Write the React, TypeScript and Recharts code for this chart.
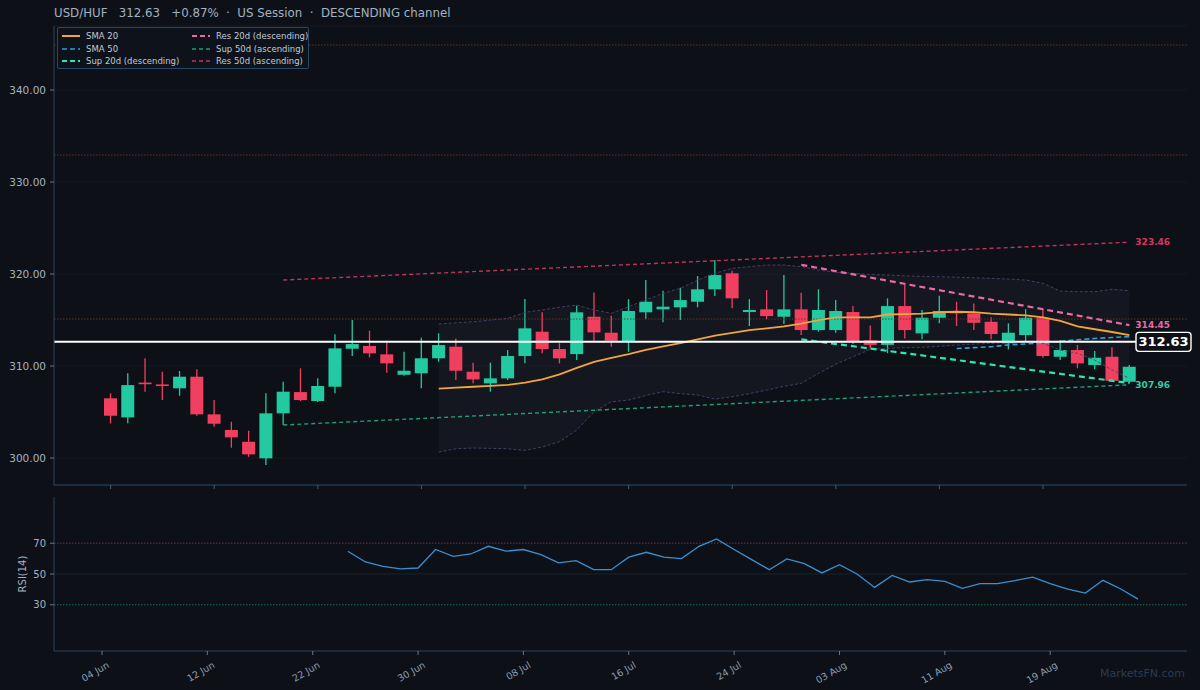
import React from 'react';
import { ComposedChart, Bar, Line, Area, XAxis, YAxis, CartesianGrid, ReferenceLine } from 'recharts';

// daily candles
const opens = [
  306.49, 304.42, 308.2, 308.0, 307.58, 308.84, 304.75, 303.05, 301.77, 299.97,
  304.86, 307.17, 306.2, 307.75, 311.88, 312.18, 311.27, 309.05, 309.21, 310.84,
  312.1, 309.38, 308.12, 308.66, 311.09, 313.73, 311.85, 311.3, 315.36, 313.62,
  312.64, 315.84, 316.16, 316.38, 316.99, 318.34, 320.08, 315.87, 316.16, 315.36,
  316.16, 313.91, 313.91, 315.87, 312.8, 312.3, 316.52, 313.55, 315.25, 315.98,
  315.73, 314.81, 312.47, 313.37, 315.25, 311.01, 311.74, 310.11, 311.01, 308.29,
];
const highs = [
  307.03, 309.21, 310.84, 309.38, 309.46, 309.64, 306.3, 303.95, 302.97, 307.03,
  308.29, 309.75, 308.66, 313.45, 315.0, 313.84, 312.53, 311.55, 313.08, 313.55,
  313.0, 310.36, 310.36, 311.74, 317.28, 315.84, 312.47, 316.55, 317.99, 315.47,
  317.28, 319.35, 318.18, 318.51, 319.78, 321.52, 320.36, 317.28, 318.26, 319.89,
  317.97, 318.34, 317.17, 316.52, 314.4, 317.36, 318.8, 316.09, 317.64, 316.99,
  316.81, 315.29, 314.64, 316.19, 316.27, 312.83, 312.28, 311.63, 312.03, 310.11,
];
const lows = [
  303.77, 303.77, 307.21, 306.3, 306.77, 304.6, 303.4, 301.12, 300.14, 299.24,
  303.6, 306.2, 306.1, 307.03, 311.09, 310.94, 309.27, 308.95, 307.58, 310.47,
  308.48, 308.12, 307.21, 308.48, 310.29, 311.38, 310.29, 310.65, 312.64, 312.1,
  311.55, 315.08, 314.75, 315.0, 316.38, 317.61, 316.27, 314.35, 315.08, 314.57,
  313.37, 313.73, 313.62, 312.4, 311.92, 311.4, 313.0, 312.9, 314.64, 314.35,
  313.91, 312.9, 311.81, 312.64, 310.9, 310.65, 309.75, 309.64, 308.29, 308.12,
];
const closes = [
  304.6, 307.93, 308.1, 307.9, 308.84, 304.75, 303.73, 302.25, 300.4, 304.86,
  307.21, 306.3, 307.83, 311.92, 312.39, 311.38, 310.29, 309.49, 310.84, 312.28,
  309.49, 308.55, 308.66, 311.09, 314.1, 311.85, 310.84, 315.84, 313.66, 312.75,
  315.98, 316.99, 316.45, 317.17, 318.34, 319.89, 317.36, 316.09, 315.43, 316.16,
  313.91, 316.09, 315.98, 312.64, 312.3, 316.52, 313.91, 315.25, 315.98, 315.73,
  314.7, 313.48, 313.62, 315.25, 311.09, 311.74, 310.29, 310.9, 308.4, 309.92,
];

// overlays (first index each series starts at)
const SMA20_FROM = 19;
const sma20 = [
  307.55, 307.65, 307.75, 307.85, 307.95, 308.2, 308.55, 309.1, 309.8, 310.45,
  310.9, 311.3, 311.75, 312.15, 312.5, 312.9, 313.3, 313.6, 313.9, 314.1,
  314.3, 314.6, 315.0, 315.3, 315.3, 315.3, 315.6, 315.65, 315.7, 315.85,
  315.9, 315.85, 315.7, 315.6, 315.5, 315.3, 314.9, 314.3, 314.0, 313.7, 313.35,
];
const SMA50_FROM = 49;
const sma50 = [311.9, 312.0, 312.1, 312.3, 312.4, 312.5, 312.7, 312.85, 313.0, 313.1, 313.2];

const BB_FROM = 19;
const bbUpper = [
  314.57, 314.7, 314.81, 315.0, 315.18, 315.84, 316.09, 316.4, 316.63, 316.09,
  315.73, 316.45, 317.2, 317.9, 318.45, 319.35, 320.08, 320.62, 320.8, 320.98,
  320.98, 320.8, 320.43, 320.2, 320.08, 319.95, 319.89, 319.8, 319.75, 319.71,
  319.65, 319.6, 319.53, 319.45, 319.35, 318.99, 318.15, 318.08, 318.08, 318.34, 318.18,
];
const bbLower = [
  300.65, 301.01, 301.09, 301.05, 301.01, 300.83, 301.2, 301.77, 303.05, 305.03,
  306.12, 306.3, 306.8, 307.21, 307.0, 306.85, 306.41, 306.67, 307.0, 307.39,
  307.8, 308.12, 309.21, 310.2, 311.01, 311.81, 311.92, 312.0, 312.03, 312.15,
  312.28, 312.38, 312.47, 312.55, 312.64, 312.47, 311.74, 311.38, 310.65, 309.57, 308.66,
];

// trend lines: [fromIndex, toIndex], [startValue, endValue]
const res50Idx = [10, 59];
const res50Val = [319.35, 323.46];
const sup50Idx = [10, 59];
const sup50Val = [303.59, 307.96];
const res20Idx = [40, 59];
const res20Val = [321.0, 314.45];
const sup20Idx = [40, 59];
const sup20Val = [312.9, 308.15];

const levels = [344.89, 332.94, 315.11];
const lastPrice = 312.63;

const RSI_FROM = 14;
const rsi = [
  64.8, 57.8, 55.0, 53.3, 53.9, 65.9, 61.5, 63.0, 68.0, 64.8,
  65.9, 62.6, 57.2, 58.7, 52.8, 52.8, 60.9, 64.1, 60.9, 60.0,
  68.0, 72.8, 65.9, 59.3, 52.8, 59.8, 56.7, 50.7, 56.1, 50.0,
  41.3, 49.1, 44.8, 46.3, 45.2, 40.7, 43.7, 43.7, 45.7, 48.0,
  43.7, 40.2, 37.6, 45.9, 40.4, 33.7,
];

const tickLabels = ['04 Jun', '12 Jun', '22 Jun', '30 Jun', '08 Jul', '16 Jul', '24 Jul', '03 Aug', '11 Aug', '19 Aug'];
const TICK_EVERY = 6;

const BG = '#0d1117';
const BORDER = '#2a4663';
const TXT = '#a3b1c2';
const UP = '#22c9a1';
const DOWN = '#f03f5f';
const C_SMA20 = '#f2a53a';
const C_SMA50 = '#2b9fe0';
const C_SUP20 = '#2ee3b4';
const C_RES20 = '#ea6aa3';
const C_SUP50 = '#1f9e72';
const C_RES50 = '#c2335a';
const FONT = '"DejaVu Sans", sans-serif';
const LAST = opens.length - 1;

const from = (arr: number[], start: number, i: number) =>
  i >= start && i - start < arr.length ? arr[i - start] : null;
const ends = (idx: number[], val: number[], i: number) =>
  i === idx[0] ? val[0] : i === idx[1] ? val[1] : null;

const data = opens.map((o, i) => ({
  i,
  o,
  h: highs[i],
  l: lows[i],
  c: closes[i],
  sma20: from(sma20, SMA20_FROM, i),
  sma50: from(sma50, SMA50_FROM, i),
  bbU: from(bbUpper, BB_FROM, i),
  bbL: from(bbLower, BB_FROM, i),
  res50: ends(res50Idx, res50Val, i),
  sup50: ends(sup50Idx, sup50Val, i),
  res20: ends(res20Idx, res20Val, i),
  sup20: ends(sup20Idx, sup20Val, i),
  rsi: from(rsi, RSI_FROM, i),
}));

const Candle = (props: any) => {
  const { x, y, width, height, payload } = props;
  if (x == null || y == null) return <g />;
  const { o, h, l, c } = payload;
  const top = height < 0 ? y + height : y;
  const hh = Math.abs(height);
  const ppu = hh / (h - l || 1);
  const yOf = (v: number) => top + (h - v) * ppu;
  const color = c >= o ? UP : DOWN;
  const cx = x + width / 2;
  const bTop = yOf(Math.max(o, c));
  const bBot = yOf(Math.min(o, c));
  return (
    <g>
      <line x1={cx} x2={cx} y1={top} y2={top + hh} stroke={color} strokeWidth={1.3} />
      <rect x={x} y={bTop} width={width} height={Math.max(bBot - bTop, 1.6)} fill={color} />
    </g>
  );
};

const endLabel = (color: string) => (p: any) => {
  if (p.index !== LAST || p.value == null) return <g />;
  return (
    <text x={p.x + 6} y={p.y} dy={3} fill={color} fontSize={9} fontWeight="bold" fontFamily={FONT}>
      {Number(p.value).toFixed(2)}
    </text>
  );
};

const PriceTag = (p: any) => {
  const vb = p.viewBox || {};
  const x = vb.x + vb.width - 51;
  const y = vb.y;
  return (
    <g>
      <rect x={x} y={y - 9.5} width={55} height={19} rx={3} fill={BG} stroke="#ffffff" strokeWidth={1.4} />
      <text x={x + 27.5} y={y} dy={4.5} textAnchor="middle" fill="#ffffff" fontSize={13} fontWeight="bold" fontFamily={FONT}>
        {lastPrice.toFixed(2)}
      </text>
    </g>
  );
};

const DateTick = (p: any) => {
  const n = p.payload.value / TICK_EVERY;
  const ax = p.x + 8;
  const ay = p.y + 10;
  return (
    <text x={ax} y={ay} transform={`rotate(-30 ${ax} ${ay})`} textAnchor="end" fill="#8f9db0" fontSize={9.5} fontFamily={FONT}>
      {tickLabels[n]}
    </text>
  );
};

const legendItems = [
  { name: 'SMA 20', color: C_SMA20, dash: '', w: 2 },
  { name: 'Res 20d (descending)', color: C_RES20, dash: '5 3', w: 2 },
  { name: 'SMA 50', color: C_SMA50, dash: '5 3', w: 1.6 },
  { name: 'Sup 50d (ascending)', color: C_SUP50, dash: '4 3', w: 1.4 },
  { name: 'Sup 20d (descending)', color: C_SUP20, dash: '5 3', w: 2 },
  { name: 'Res 50d (ascending)', color: C_RES50, dash: '4 3', w: 1.4 },
];

const xPad = { left: 48, right: 49 };

export default function App() {
  return (
    <div style={{ position: 'fixed', left: 0, top: 0, width: 1200, height: 690, background: BG, fontFamily: FONT, overflow: 'hidden' }}>
      <div style={{ position: 'absolute', left: 54, top: 6, fontSize: 11.8, color: TXT, whiteSpace: 'pre' }}>
        {'USD/HUF   312.63   +0.87%  ·  US Session  ·  DESCENDING channel'}
      </div>

      <div style={{ position: 'absolute', left: 0, top: 0 }}>
        <ComposedChart width={1200} height={500} data={data} margin={{ top: 26, right: 13, left: 0, bottom: 10 }}>
          <CartesianGrid stroke="#161d27" strokeWidth={0.7} vertical={false} />
          <XAxis dataKey="i" type="category" padding={xPad} interval={TICK_EVERY - 1} height={5} tickSize={4}
            tickFormatter={() => ''} axisLine={{ stroke: BORDER }} tickLine={{ stroke: '#4b5868' }} />
          <XAxis xAxisId="top" dataKey="i" orientation="top" height={0} tick={false} tickLine={false} axisLine={{ stroke: BORDER }} />
          <YAxis domain={[297.07, 346.96]} allowDataOverflow ticks={[300, 310, 320, 330, 340]} width={54} tickSize={4} tickMargin={4}
            tickFormatter={(v: number) => v.toFixed(2)} tick={{ fill: TXT, fontSize: 10.5, fontFamily: FONT }}
            axisLine={{ stroke: BORDER }} tickLine={{ stroke: '#6b7888' }} />
          <YAxis yAxisId="right" orientation="right" width={0} domain={[0, 1]} tick={false} tickLine={false} axisLine={{ stroke: BORDER }} />

          <Area dataKey={(d: any) => (d.bbU == null ? null : [d.bbL, d.bbU])} stroke="none" fill="#8c7ab8" fillOpacity={0.055} isAnimationActive={false} />
          <Line dataKey="bbU" stroke="#4d3f6b" strokeWidth={0.9} strokeDasharray="3 2" dot={false} isAnimationActive={false} />
          <Line dataKey="bbL" stroke="#4d3f6b" strokeWidth={0.9} strokeDasharray="3 2" dot={false} isAnimationActive={false} />

          {levels.map((v) => (
            <ReferenceLine key={v} y={v} stroke="#6e3426" strokeDasharray="1.5 1.5" strokeWidth={0.9} />
          ))}

          <Line dataKey="res50" connectNulls stroke={C_RES50} strokeWidth={1.4} strokeDasharray="4 3" dot={false} isAnimationActive={false} label={endLabel('#d6385f')} />
          <Line dataKey="sup50" connectNulls stroke={C_SUP50} strokeWidth={1.4} strokeDasharray="4 3" dot={false} isAnimationActive={false} label={endLabel('#2fcf9f')} />

          <Bar dataKey={(d: any) => [d.l, d.h]} barSize={13} shape={Candle} isAnimationActive={false} />

          <Line dataKey="sup20" connectNulls stroke={C_SUP20} strokeWidth={2.2} strokeDasharray="6 4" dot={false} isAnimationActive={false} />
          <Line dataKey="res20" connectNulls stroke={C_RES20} strokeWidth={2.2} strokeDasharray="6 4" dot={false} isAnimationActive={false} label={endLabel(C_RES20)} />
          <Line dataKey="sma50" stroke={C_SMA50} strokeWidth={1.6} strokeDasharray="5 3" dot={false} isAnimationActive={false} />
          <Line dataKey="sma20" stroke={C_SMA20} strokeWidth={1.8} dot={false} isAnimationActive={false} />

          <ReferenceLine y={lastPrice} stroke="#ffffff" strokeWidth={2} label={PriceTag} />
        </ComposedChart>
      </div>

      <div style={{ position: 'absolute', left: 57, top: 27, width: 250, height: 40, border: `1px solid ${BORDER}`, background: '#0e131b', borderRadius: 2 }}>
        {legendItems.map((it, k) => (
          <div key={it.name} style={{ position: 'absolute', left: k % 2 === 0 ? 4 : 134, top: 3 + Math.floor(k / 2) * 12.5, display: 'flex', alignItems: 'center', fontSize: 8.5, color: '#c0cad5', whiteSpace: 'nowrap' }}>
            <svg width={18} height={6} style={{ marginRight: 6 }}>
              <line x1={0} x2={18} y1={3} y2={3} stroke={it.color} strokeWidth={it.w} strokeDasharray={it.dash} />
            </svg>
            {it.name}
          </div>
        ))}
      </div>

      <div style={{ position: 'absolute', left: 0, top: 490 }}>
        <ComposedChart width={1200} height={200} data={data} margin={{ top: 7, right: 13, left: 0, bottom: 0 }}>
          <XAxis dataKey="i" type="category" padding={xPad} interval={TICK_EVERY - 1} height={39} tickSize={4}
            tick={DateTick} axisLine={{ stroke: BORDER }} tickLine={{ stroke: '#6b7888' }} />
          <XAxis xAxisId="top" dataKey="i" orientation="top" height={0} tick={false} tickLine={false} axisLine={{ stroke: BORDER }} />
          <YAxis domain={[0, 100]} ticks={[30, 50, 70]} width={54} tickSize={4} tickMargin={4}
            tick={{ fill: TXT, fontSize: 10, fontFamily: FONT }} axisLine={{ stroke: BORDER }} tickLine={{ stroke: '#6b7888' }} />
          <YAxis yAxisId="right" orientation="right" width={0} domain={[0, 1]} tick={false} tickLine={false} axisLine={{ stroke: BORDER }} />
          <ReferenceLine y={50} stroke="#1f2731" strokeWidth={0.8} />
          <ReferenceLine y={70} stroke="#82304a" strokeDasharray="1.5 1.5" strokeWidth={0.9} />
          <ReferenceLine y={30} stroke="#1c7a5d" strokeDasharray="1.5 1.5" strokeWidth={0.9} />
          <Line dataKey="rsi" stroke="#3a8fd0" strokeWidth={1.3} dot={false} isAnimationActive={false} />
        </ComposedChart>
      </div>

      <div style={{ position: 'absolute', left: 22, top: 574, transform: 'translate(-50%, -50%) rotate(-90deg)', fontSize: 10, color: TXT, whiteSpace: 'nowrap' }}>
        RSI(14)
      </div>
      <div style={{ position: 'absolute', right: 15, top: 667, fontSize: 11, color: '#2a3b55' }}>MarketsFN.com</div>
    </div>
  );
}
